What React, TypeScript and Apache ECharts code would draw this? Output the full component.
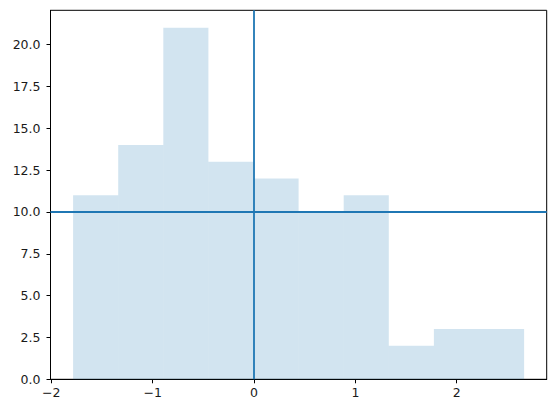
import React, { useEffect, useRef } from "react";
import * as echarts from "echarts";

const binEdges = [-1.785, -1.34, -0.895, -0.45, -0.005, 0.44, 0.885, 1.33, 1.775, 2.22, 2.665];
const counts = [11, 14, 21, 13, 12, 10, 11, 2, 3, 3];
const xTicks = [-2, -1, 0, 1, 2];
const yTicks = [0, 2.5, 5, 7.5, 10, 12.5, 15, 17.5, 20];
const vLineX = 0;
const hLineY = 10;

const FONT = "'DejaVu Sans', sans-serif";

export default function App() {
  const ref = useRef<HTMLDivElement>(null);
  useEffect(() => {
    if (!ref.current) return;
    const chart = echarts.init(ref.current, null, { renderer: "svg" });
    const data = counts.map((c, i) => [binEdges[i], binEdges[i + 1], c]);
    chart.setOption({
      animation: false,
      backgroundColor: "#ffffff",
      grid: {
        left: 50.5,
        right: 8.3,
        top: 10.3,
        bottom: 32.7,
        show: true,
        borderColor: "#000000",
        borderWidth: 1,
        backgroundColor: "transparent",
      },
      xAxis: {
        type: "value",
        min: -2.008,
        max: 2.888,
        axisLine: { show: true, onZero: false, lineStyle: { color: "#000", width: 1 } },
        axisTick: { show: true, length: 4, lineStyle: { color: "#000" }, customValues: xTicks },
        axisLabel: {
          customValues: xTicks,
          color: "#1a1a1a",
          fontFamily: FONT,
          fontSize: 12.5,
          margin: 7,
          formatter: (v: number) => String(v).replace("-", "\u2212"),
        },
        splitLine: { show: false },
      },
      yAxis: {
        type: "value",
        min: 0,
        max: 22.05,
        axisLine: { show: true, onZero: false, lineStyle: { color: "#000", width: 1 } },
        axisTick: { show: true, length: 4, lineStyle: { color: "#000" }, customValues: yTicks },
        axisLabel: {
          customValues: yTicks,
          color: "#1a1a1a",
          fontFamily: FONT,
          fontSize: 12.5,
          margin: 10,
          formatter: (v: number) => v.toFixed(1),
        },
        splitLine: { show: false },
      },
      series: [
        {
          type: "custom",
          data,
          encode: { x: [0, 1], y: 2 },
          renderItem: (params: any, api: any) => {
            const p0 = api.coord([api.value(0), api.value(2)]);
            const p1 = api.coord([api.value(1), 0]);
            return {
              type: "rect",
              shape: { x: p0[0], y: p0[1], width: p1[0] - p0[0], height: p1[1] - p0[1] },
              style: { fill: "rgba(31,119,180,0.2)" },
            };
          },
          markLine: {
            silent: true,
            symbol: "none",
            label: { show: false },
            lineStyle: { color: "#1f77b4", width: 1.8, type: "solid" },
            emphasis: { disabled: true },
            data: [{ xAxis: vLineX }, { yAxis: hLineY }],
          },
        },
      ],
    });
    return () => chart.dispose();
  }, []);
  return (
    <div
      ref={ref}
      style={{ position: "absolute", left: 0, top: 0, width: 555, height: 412 }}
    />
  );
}
